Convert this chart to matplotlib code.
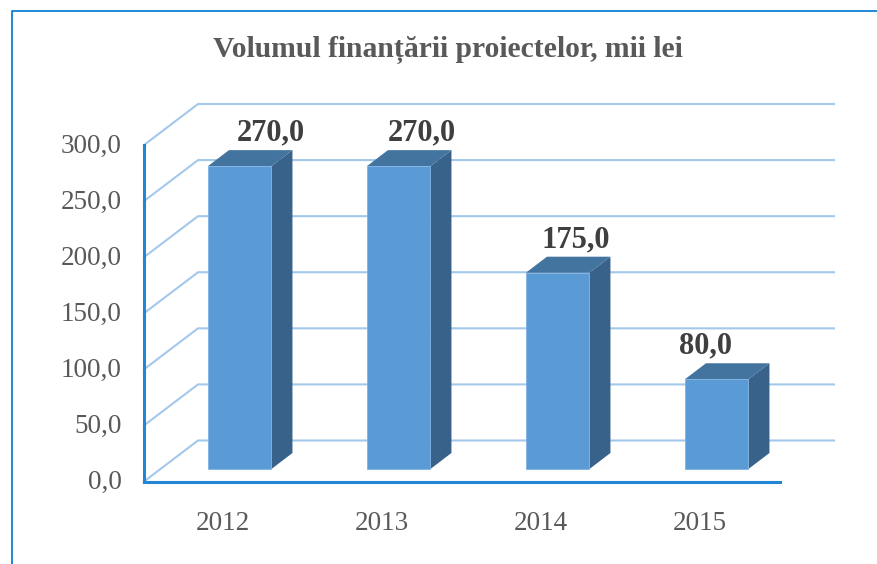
import matplotlib
matplotlib.use("Agg")
import matplotlib.pyplot as plt
from matplotlib.patches import Polygon, Rectangle
from matplotlib.ticker import FixedLocator, FixedFormatter
from matplotlib.transforms import ScaledTranslation

categories = ["2012", "2013", "2014", "2015"]
values = [270.0, 270.0, 175.0, 80.0]
value_labels = ["270,0", "270,0", "175,0", "80,0"]
y_ticks = [0, 50, 100, 150, 200, 250, 300]
y_labels = ["0,0", "50,0", "100,0", "150,0", "200,0", "250,0", "300,0"]
title = "Volumul finanțării proiectelor, mii lei"
# hand-placed data labels: horizontal shift from the bar's top, in pixels
label_shift_px = [21, 13, 8, -22]

W, H = 877, 564
fig = plt.figure(figsize=(W / 100, H / 100), dpi=100, facecolor="white")
plt.rcParams["font.family"] = ["Liberation Serif", "DejaVu Serif"]

# Frame of the picture
fig.add_artist(plt.Line2D([11.5 / W, 11.5 / W, 1], [0, 1 - 10.5 / H, 1 - 10.5 / H],
                          transform=fig.transFigure, color="#0f7fd2", lw=1.3))

# Front plane of the pseudo-3D box
L, R, B, T = 144, 780, 481.5, 145
ax = fig.add_axes([L / W, 1 - B / H, (R - L) / W, (B - T) / H])
ax.set_xlim(-0.5, len(categories) - 0.5)
ax.set_ylim(0, 300)
ax.patch.set_visible(False)

px_x = (len(categories)) / (R - L)   # data units per pixel
px_y = 300 / (B - T)

AXIS = "#2287d2"
GRID = "#a3c8ea"
wall_dx, wall_dy = 54 * px_x, 41 * px_y
x0, x1 = ax.get_xlim()
for v in y_ticks:
    ax.plot([x0, x0 + wall_dx, x1 + wall_dx], [v, v + wall_dy, v + wall_dy],
            color=GRID, lw=1.5, clip_on=False, zorder=1, solid_joinstyle="miter")

# Bars
bar_w = 63.5 * px_x
shift_x = 16.2 * px_x
shift_y = 12.5 * px_y
depth_x, depth_y = 21 * px_x, 16 * px_y
FRONT, TOP, SIDE, EDGE = "#5b9bd5", "#43739f", "#39628a", "#7fb2e2"
for i, v in enumerate(values):
    a = i + shift_x - bar_w / 2
    b = a + bar_w
    y0 = shift_y
    y1 = shift_y + v
    ax.add_patch(Polygon([(b, y0), (b + depth_x, y0 + depth_y), (b + depth_x, y1 + depth_y), (b, y1)],
                         closed=True, fc=SIDE, ec="none", clip_on=False, zorder=3))
    ax.add_patch(Polygon([(a, y1), (a + depth_x, y1 + depth_y), (b + depth_x, y1 + depth_y), (b, y1)],
                         closed=True, fc=TOP, ec="none", clip_on=False, zorder=3))
    ax.add_patch(Rectangle((a, y0), bar_w, v, fc=FRONT, ec=EDGE, lw=0.6, clip_on=False, zorder=4))
    ax.annotate(value_labels[i], xy=(i + shift_x + depth_x / 2, y1 + depth_y),
                xytext=(label_shift_px[i] * 0.72, 17 * 0.72),
                textcoords="offset points", ha="center", va="center", fontsize=22,
                fontweight="bold", color="#3f3f3f", zorder=5, annotation_clip=False)

# Axes
for s in ("top", "right"):
    ax.spines[s].set_visible(False)
for s in ("left", "bottom"):
    ax.spines[s].set_color(AXIS)
    ax.spines[s].set_linewidth(2.2)
    ax.spines[s].set_zorder(6)
ax.yaxis.set_major_locator(FixedLocator(y_ticks))
ax.yaxis.set_major_formatter(FixedFormatter(y_labels))
ax.set_xticks(range(len(categories)))
ax.set_xticklabels(categories)
ax.tick_params(axis="both", length=0, labelcolor="#595959", labelsize=19.5)
ax.tick_params(axis="y", pad=16)
ax.tick_params(axis="x", pad=21)
nudge_up = ScaledTranslation(0, 2 / 100, fig.dpi_scale_trans)
nudge_left = ScaledTranslation(-1 / 100, 0, fig.dpi_scale_trans)
for lab in ax.get_yticklabels():
    lab.set_transform(lab.get_transform() + nudge_up)
for lab in ax.get_xticklabels():
    lab.set_transform(lab.get_transform() + nudge_left)

fig.text(448 / W, 1 - 50 / H, title, ha="center", va="center", fontsize=21.3,
         fontweight="bold", color="#595959")

fig.savefig("out.png", dpi=100, facecolor="white")
